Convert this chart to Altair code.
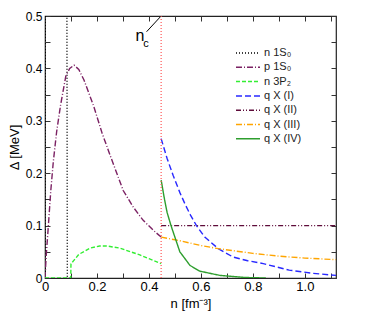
import altair as alt
import pandas as pd

# ---- data ----
series_names = ["n 1S₀", "p 1S₀", "n 3P₂", "q X (I)", "q X (II)", "q X (III)", "q X (IV)"]
series_colors = ["#000000", "#7b2163", "#33ee33", "#2828ff", "#5e0c3a", "#ffa500", "#2e9e2e"]
series_dashes = [[1, 2], [6, 2, 1, 2], [4, 2], [6, 3], [5, 2, 1, 2, 1, 2], [6, 2, 1, 2], [1, 0]]

n1s0_n = [0.0, 0.001, 0.084, 0.086]
n1s0_d = [0.0, 0.6, 0.6, 0.0]

p1s0_n = [0.0, 0.005, 0.013, 0.022, 0.032, 0.045, 0.060, 0.080, 0.095, 0.112, 0.130,
          0.150, 0.188, 0.220, 0.253, 0.280, 0.301, 0.340, 0.378, 0.417, 0.447]
p1s0_d = [0.0, 0.045, 0.10, 0.165, 0.222, 0.280, 0.330, 0.385, 0.400, 0.406, 0.398,
          0.378, 0.327, 0.276, 0.231, 0.195, 0.167, 0.135, 0.110, 0.091, 0.078]

n3p2_n = [0.0, 0.099, 0.100, 0.130, 0.173, 0.210, 0.240, 0.288, 0.330, 0.365, 0.400, 0.447]
n3p2_d = [0.0, 0.0, 0.027, 0.045, 0.057, 0.061, 0.061, 0.057, 0.050, 0.044, 0.037, 0.0275]

qx1_n = [0.447, 0.470, 0.493, 0.520, 0.540, 0.560, 0.583, 0.615, 0.667, 0.724, 0.780,
         0.840, 0.940, 1.030, 1.120]
qx1_d = [0.266, 0.228, 0.196, 0.162, 0.140, 0.120, 0.100, 0.078, 0.056, 0.040, 0.033,
         0.0275, 0.015, 0.009, 0.005]

qx2_n = [0.447, 1.120]
qx2_d = [0.100, 0.100]

qx3_n = [0.447, 0.520, 0.600, 0.667, 0.800, 0.904, 1.000, 1.120]
qx3_d = [0.078, 0.071, 0.062, 0.056, 0.047, 0.0415, 0.038, 0.035]

qx4_n = [0.447, 0.460, 0.470, 0.485, 0.519, 0.558, 0.596, 0.673, 0.770, 0.850]
qx4_d = [0.187, 0.150, 0.125, 0.100, 0.050, 0.024, 0.013, 0.005, 0.001, 0.0]

n_c = 0.447
x_ticks = [round(0.1 * i, 2) for i in range(12)]
y_ticks = [round(0.05 * i, 2) for i in range(11)]

arrow_n = [0.391, 0.445]
arrow_d = [0.470, 0.499]

# ---- build table ----
rows = []
for name, ns, ds in zip(series_names,
                        [n1s0_n, p1s0_n, n3p2_n, qx1_n, qx2_n, qx3_n, qx4_n],
                        [n1s0_d, p1s0_d, n3p2_d, qx1_d, qx2_d, qx3_d, qx4_d]):
    for i, (a, b) in enumerate(zip(ns, ds)):
        rows.append({"series": name, "n": a, "d": b, "i": i})
df = pd.DataFrame(rows)

xscale = alt.Scale(domain=[0, 1.12], nice=False, zero=False)
yscale = alt.Scale(domain=[0, 0.5], nice=False, zero=False)

font = "Liberation Sans"

x_axis = alt.Axis(values=x_ticks, tickSize=5, offset=-5, domain=False, grid=False,
                  labelExpr="round(datum.value*10) % 2 == 0 ? (datum.value == 0 ? '0' : format(datum.value, '.1f')) : ''",
                  labelFontSize=13, labelPadding=2, title="n [fm⁻³]", titleFontSize=13,
                  titleFontWeight="normal", titlePadding=4, tickColor="#333333", labelFont=font, titleFont=font,
                  labelColor="#000000", titleColor="#000000", labelFlush=False)
y_axis = alt.Axis(values=y_ticks, tickSize=5, offset=-5, domain=False, grid=False,
                  labelExpr="round(datum.value*20) % 2 == 0 ? (datum.value == 0 ? '0' : format(datum.value, '.1f')) : ''",
                  labelFontSize=12, labelPadding=3, title="Δ [MeV]", titleFontSize=13,
                  titleFontWeight="normal", titlePadding=4, tickColor="#333333", labelFont=font, titleFont=font,
                  labelColor="#000000", titleColor="#000000", labelFlush=False)

lines = alt.Chart(df).mark_line(clip=True, strokeWidth=1.4).encode(
    x=alt.X("n:Q", scale=xscale, axis=x_axis),
    y=alt.Y("d:Q", scale=yscale, axis=y_axis),
    color=alt.Color("series:N", scale=alt.Scale(domain=series_names, range=series_colors),
                    sort=series_names, title=None),
    strokeDash=alt.StrokeDash("series:N", scale=alt.Scale(domain=series_names, range=series_dashes),
                              sort=series_names, title=None),
    order="i:Q",
)

nc_rule = alt.Chart(pd.DataFrame({"n": [n_c]})).mark_rule(
    color="#ff5555", strokeDash=[1, 2], strokeWidth=1.2).encode(
    x=alt.X("n:Q", scale=xscale, axis=None))

arrow_df = pd.DataFrame({"n": [arrow_n[0]], "d": [arrow_d[0]], "n2": [arrow_n[1]], "d2": [arrow_d[1]]})
arrow = alt.Chart(arrow_df).mark_rule(color="#000000", strokeWidth=1).encode(
    x=alt.X("n:Q", scale=xscale,
            axis=alt.Axis(orient="top", values=x_ticks, labels=False, tickSize=5, offset=-5,
                          domain=False, grid=False, title=None, tickColor="#333333")),
    y=alt.Y("d:Q", scale=yscale,
            axis=alt.Axis(orient="right", values=y_ticks, labels=False, tickSize=5, offset=-5,
                          domain=False, grid=False, title=None, tickColor="#333333")),
    x2="n2:Q", y2="d2:Q",
)

label_n = alt.Chart(pd.DataFrame({"n": [0.365], "d": [0.461], "t": ["n"]})).mark_text(
    fontSize=16, font=font, color="#000000").encode(
    x=alt.X("n:Q", scale=xscale, axis=None), y=alt.Y("d:Q", scale=yscale, axis=None), text="t:N")
label_c = alt.Chart(pd.DataFrame({"n": [0.389], "d": [0.446], "t": ["c"]})).mark_text(
    fontSize=11, font=font, color="#000000").encode(
    x=alt.X("n:Q", scale=xscale, axis=None), y=alt.Y("d:Q", scale=yscale, axis=None), text="t:N")

chart = alt.layer(lines, nc_rule, arrow, label_n, label_c).resolve_axis(
    x="independent", y="independent"
).properties(
    width=291, height=262,
    autosize=alt.AutoSizeParams(type="none"),
    padding={"left": 37, "top": 8, "right": 30, "bottom": 40},
).configure_view(
    stroke="#222222", strokeWidth=1.2
).configure_legend(
    orient="none", legendX=196, legendY=30, symbolType="M-2,0H2", symbolSize=144,
    symbolStrokeWidth=1.5, labelFontSize=11, labelFont=font, labelColor="#222222",
    rowPadding=2.3, padding=0, labelOffset=9,
)

chart.save("out.html", embed_options={"renderer": "svg", "actions": False})
